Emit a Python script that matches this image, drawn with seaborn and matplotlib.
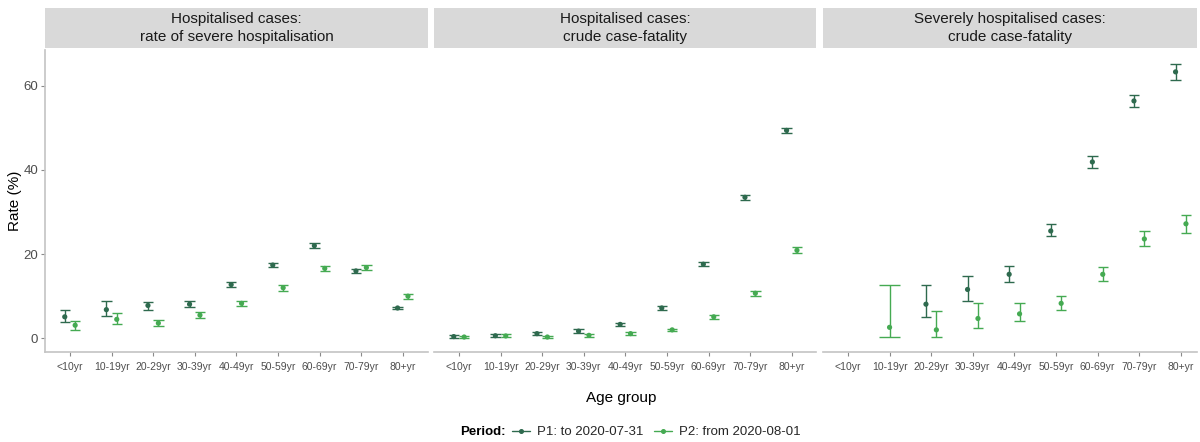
import numpy as np
import pandas as pd
import matplotlib
matplotlib.use("Agg")
import matplotlib.pyplot as plt
from matplotlib.lines import Line2D
import seaborn as sns

sns.set_theme(style="white")
plt.rcParams["font.family"] = ["Liberation Sans", "DejaVu Sans"]

# ---- data -------------------------------------------------------------
age_groups = ["<10yr", "10-19yr", "20-29yr", "30-39yr", "40-49yr",
              "50-59yr", "60-69yr", "70-79yr", "80+yr"]
periods = ["P1: to 2020-07-31", "P2: from 2020-08-01"]
panel_titles = ["Hospitalised cases:\nrate of severe hospitalisation",
                "Hospitalised cases:\ncrude case-fatality",
                "Severely hospitalised cases:\ncrude case-fatality"]
nan = np.nan

# Hospitalised cases: rate of severe hospitalisation
sev_p1 = [5.1, 6.8, 7.8, 8.1, 12.75, 17.4, 22.0, 16.0, 7.2]
sev_p1_lo = [3.8, 5.3, 6.8, 7.4, 12.1, 16.9, 21.4, 15.6, 6.9]
sev_p1_hi = [6.8, 8.9, 8.7, 8.8, 13.3, 17.8, 22.6, 16.4, 7.5]
sev_p2 = [3.1, 4.5, 3.6, 5.5, 8.3, 12.0, 16.6, 16.8, 10.0]
sev_p2_lo = [2.0, 3.4, 3.0, 4.9, 7.6, 11.3, 15.9, 16.2, 9.4]
sev_p2_hi = [4.1, 6.1, 4.3, 6.2, 8.9, 12.6, 17.2, 17.4, 10.5]

# Hospitalised cases: crude case-fatality
cfr_p1 = [0.4, 0.6, 1.1, 1.7, 3.3, 7.2, 17.6, 33.5, 49.4]
cfr_p1_lo = [0.1, 0.3, 0.8, 1.3, 2.9, 6.8, 17.1, 32.9, 48.8]
cfr_p1_hi = [0.7, 0.9, 1.4, 2.1, 3.7, 7.6, 18.1, 34.1, 50.0]
cfr_p2 = [0.3, 0.55, 0.3, 0.7, 1.1, 2.0, 5.1, 10.7, 20.9]
cfr_p2_lo = [0.1, 0.3, 0.1, 0.4, 0.8, 1.7, 4.6, 10.1, 20.2]
cfr_p2_hi = [0.6, 0.9, 0.5, 1.0, 1.4, 2.3, 5.5, 11.3, 21.6]

# Severely hospitalised cases: crude case-fatality
scfr_p1 = [nan, nan, 8.1, 11.6, 15.2, 25.5, 41.9, 56.4, 63.3]
scfr_p1_lo = [nan, nan, 5.1, 8.9, 13.3, 24.2, 40.5, 55.0, 61.3]
scfr_p1_hi = [nan, nan, 12.6, 14.8, 17.2, 27.1, 43.3, 57.9, 65.2]
scfr_p2 = [nan, 2.6, 2.0, 4.7, 5.8, 8.3, 15.2, 23.6, 27.2]
scfr_p2_lo = [nan, 0.2, 0.3, 2.4, 4.2, 6.8, 13.6, 21.9, 25.1]
scfr_p2_hi = [nan, 12.7, 6.5, 8.4, 8.4, 10.1, 16.9, 25.4, 29.4]

series = [
    [(sev_p1, sev_p1_lo, sev_p1_hi), (sev_p2, sev_p2_lo, sev_p2_hi)],
    [(cfr_p1, cfr_p1_lo, cfr_p1_hi), (cfr_p2, cfr_p2_lo, cfr_p2_hi)],
    [(scfr_p1, scfr_p1_lo, scfr_p1_hi), (scfr_p2, scfr_p2_lo, scfr_p2_hi)],
]

rows = []
for pi, panel in enumerate(series):
    for gi, (est, lo, hi) in enumerate(panel):
        for ai, age in enumerate(age_groups):
            rows.append(dict(panel=pi, period=periods[gi], age=age,
                             rate=est[ai], lo=lo[ai], hi=hi[ai]))
df = pd.DataFrame(rows).dropna(subset=["rate"])

palette = {periods[0]: "#2e6a4e", periods[1]: "#45aa52"}

# dodge: two groups share a slot; a lone group sits centred and wider
dodge_w = 0.5
df["n_in_slot"] = df.groupby(["panel", "age"])["period"].transform("count")
df["slot"] = df["age"].map({a: i for i, a in enumerate(age_groups)})
df["gidx"] = df["period"].map({p: i for i, p in enumerate(periods)})
df["xpos"] = np.where(df["n_in_slot"] > 1,
                      df["slot"] + (df["gidx"] - 0.5) * dodge_w / 2,
                      df["slot"].astype(float))
df["cap"] = np.where(df["n_in_slot"] > 1, dodge_w / 4, dodge_w / 2)

# ---- layout -----------------------------------------------------------
W, H = 1200, 442
fig = plt.figure(figsize=(W / 100, H / 100), dpi=100)


def box(x0, x1, y0, y1):
    return [x0 / W, 1 - y1 / H, (x1 - x0) / W, (y1 - y0) / H]


spacing = 41.6
panel_px = [(45, 428), (434, 816), (823, 1197)]
line_col = "#c4c4c4"
text_col = "#4d4d4d"

for pi, (x0, x1) in enumerate(panel_px):
    ax = fig.add_axes(box(x0, x1, 50, 352))
    sub = df[df["panel"] == pi]
    for _, r in sub.iterrows():
        c = palette[r["period"]]
        ax.vlines(r["xpos"], r["lo"], r["hi"], color=c, lw=1.0, zorder=2)
        ax.hlines([r["lo"], r["hi"]], r["xpos"] - r["cap"], r["xpos"] + r["cap"],
                  color=c, lw=1.0, zorder=2)
    sns.scatterplot(data=sub, x="xpos", y="rate", hue="period",
                    palette=palette, s=14, linewidth=0, legend=False,
                    ax=ax, zorder=3)
    ax.set_xlim(-0.6, -0.6 + (x1 - x0) / spacing)
    ax.set_ylim(-3.26, 68.5)
    ax.set_xticks(range(len(age_groups)))
    ax.set_xticklabels(age_groups, fontsize=7.5, color=text_col)
    ax.set_xlabel("")
    ax.set_ylabel("")
    for s in ["top", "right"]:
        ax.spines[s].set_visible(False)
    ax.spines["bottom"].set_color(line_col)
    ax.spines["bottom"].set_linewidth(1.2)
    ax.tick_params(axis="x", length=3, width=0.8, color="#8a8a8a", pad=4,
                   bottom=True)
    if pi == 0:
        ax.spines["left"].set_color(line_col)
        ax.spines["left"].set_linewidth(1.2)
        ax.set_yticks([0, 20, 40, 60])
        ax.set_yticklabels(["0", "20", "40", "60"], fontsize=9.5, color=text_col)
        ax.tick_params(axis="y", length=3, width=0.8, color="#8a8a8a", pad=2,
                       left=True)
    else:
        ax.spines["left"].set_visible(False)
        ax.set_yticks([])

    # facet strip
    sax = fig.add_axes(box(x0, x1, 8, 48))
    sax.set_facecolor("#d9d9d9")
    sax.set_xticks([])
    sax.set_yticks([])
    for s in sax.spines.values():
        s.set_visible(False)
    sax.text(0.5, 0.5, panel_titles[pi], ha="center", va="center",
             fontsize=11, color="#1a1a1a", linespacing=1.3,
             transform=sax.transAxes)

fig.text(15 / W, 1 - 201 / H, "Rate (%)", rotation=90, ha="center",
         va="center", fontsize=11, color="black")
fig.text(621 / W, 1 - 398 / H, "Age group", ha="center", va="center",
         fontsize=11, color="black")

# legend along the bottom
fig.text(460 / W, 1 - 432 / H, "Period:", ha="left", va="center",
         fontsize=9.5, weight="bold", color="black")
handles = [Line2D([], [], color=palette[p], marker="o", markersize=2.6,
                  lw=1.0) for p in periods]
fig.legend(handles, periods, loc="center left",
           bbox_to_anchor=(512 / W, 1 - 432 / H), ncol=2, frameon=False,
           fontsize=9.5, handlelength=1.4, handletextpad=0.5,
           columnspacing=0.8, borderpad=0, borderaxespad=0)

fig.savefig("out.png", dpi=100)
